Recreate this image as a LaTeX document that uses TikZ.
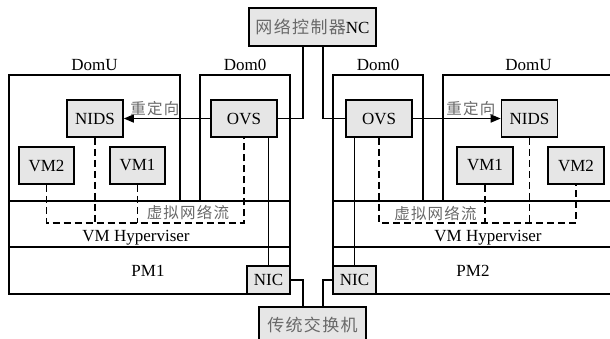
\documentclass[tikz,border=0pt]{standalone}
\usepackage{fontspec}
\setmainfont{Liberation Serif}
\newfontfamily\cjk[LetterSpace=8]{Noto Sans CJK SC}
\usetikzlibrary{arrows.meta,positioning}
\definecolor{boxgray}{RGB}{230,230,230}
\definecolor{zhgray}{RGB}{105,105,105}
\newcommand{\zh}[1]{{\cjk\color{zhgray}#1}}

\begin{document}
\begin{tikzpicture}[x=1pt,y=-1pt,line width=1.6pt,
  every node/.style={font=\fontsize{17}{20}\selectfont\rmfamily},
  box/.style={draw,fill=boxgray,inner sep=0pt,minimum height=37},
  zhtext/.style={font=\fontsize{15.5}{18}\selectfont\cjk,text=zhgray,inner sep=0pt},
  flow/.style={dash pattern=on 7pt off 4pt},
  redirect/.style={-{Triangle[length=10pt,width=8pt]}}]
  \useasboundingbox (0,0) rectangle (610,338);

  % PM1: DomU, Dom0, hypervisor and hardware bands
  \draw (9,75) rectangle (180,201);
  \draw (200,75) rectangle (290,201);
  \draw (9,201) rectangle (290,294);
  \draw (9,247) -- (290,247);
  % PM2 (runs off the right side)
  \draw (333,75) rectangle (423,201);
  \draw (443,75) rectangle (614,201);
  \draw (333,201) rectangle (614,294);
  \draw (333,247) -- (614,247);

  \node[anchor=base] (domuL) at (94.5,70) {DomU};
  \node[anchor=base] (dom0L) at (245,70) {Dom0};
  \node[anchor=base] (dom0R) at (378,70) {Dom0};
  \node[anchor=base] (domuR) at (528.5,70) {DomU};
  \node[anchor=base] (hvL) at (136,241.5) {VM Hyperviser};
  \node[anchor=base] (hvR) at (488,241.5) {VM Hyperviser};
  \node[anchor=base] (pm1) at (148,276) {PM1};
  \node[anchor=base] (pm2) at (473,276) {PM2};

  \node[box,minimum width=127,minimum height=38] (nc) at (312.5,27) {\zh{网络控制器}NC};
  \node[box,minimum width=107,minimum height=36] (sw) at (312.5,325) {\zh{传统交换机}};

  \node[box,minimum width=56] (nidsL) at (95,118.5) {NIDS};
  \node[box,minimum width=66] (ovsL) at (244,118.5) {OVS};
  \node[box,minimum width=55] (vm2L) at (46.5,165.5) {VM2};
  \node[box,minimum width=55] (vm1L) at (137.5,165.5) {VM1};
  \node[box,minimum width=43,minimum height=28] (nicL) at (268.5,280) {NIC};

  \node[box,minimum width=66] (ovsR) at (379,118.5) {OVS};
  \node[box,minimum width=56] (nidsR) at (529.5,118.5) {NIDS};
  \node[box,minimum width=56] (vm1R) at (485,165.5) {VM1};
  \node[box,minimum width=56] (vm2R) at (576,165.5) {VM2};
  \node[box,minimum width=43,minimum height=28] (nicR) at (354.5,280) {NIC};

  % controller and switch links
  \draw (ovsL.east) -| ([xshift=-9.5pt]nc.south);
  \draw (ovsR.west) -| ([xshift=10.5pt]nc.south);
  \draw (nicL.east) -| ([xshift=-9.5pt]sw.north);
  \draw (nicR.west) -| ([xshift=10.5pt]sw.north);
  \draw (nicL.north) -- (nicL.north |- ovsL.south);
  \draw (nicR.north) -- (nicR.north |- ovsR.south);

  % redirection to the NIDS
  \draw[redirect] (ovsL.west) -- node[zhtext,pos=0.64,above=2pt] {重定向} (nidsL.east);
  \draw[redirect] (ovsR.east) -- node[zhtext,pos=0.66,above=2pt] {重定向} (nidsR.west);

  % virtual traffic
  \draw[flow] (vm2L.south) -- ++(0,38) coordinate (busL) -| (ovsL.south);
  \draw[flow] (nidsL.south) -- (nidsL.south |- busL);
  \draw[flow] (vm1L.south) -- (vm1L.south |- busL);
  \node[zhtext] (flowL) at (188,212) {虚拟网络流};

  \draw[flow] (ovsR.south) -- ++(0,85) coordinate (busR) -| (vm2R.south);
  \draw[flow] (nidsR.south) -- (nidsR.south |- busR);
  \draw[flow] (vm1R.south) -- (vm1R.south |- busR);
  \node[zhtext] (flowR) at (435.5,213) {虚拟网络流};
\end{tikzpicture}
\end{document}
